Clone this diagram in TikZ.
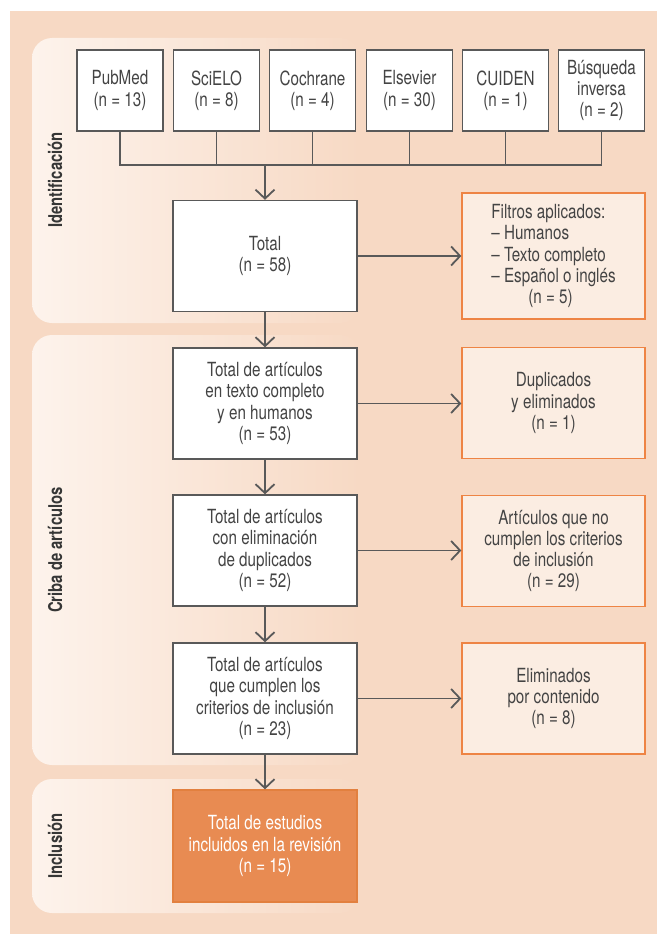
\documentclass[tikz,border=0pt]{standalone}
\usepackage{fontspec}
\setmainfont{TeX Gyre Heros}[FakeStretch=0.78]
\usetikzlibrary{arrows.meta}
\definecolor{bgc}{HTML}{F7D9C4}
\definecolor{panelL}{HTML}{FDF3EC}
\definecolor{rfill}{HTML}{FBEDE2}
\definecolor{rborder}{HTML}{EE8444}
\definecolor{ofill}{HTML}{E88B52}
\definecolor{oborder}{HTML}{E2803F}
\definecolor{boxgray}{HTML}{595959}
\definecolor{txtgray}{HTML}{444444}
\definecolor{lblgray}{HTML}{363636}
\tikzset{
  basebox/.style={draw=boxgray, line width=1.3pt, fill=white, align=center, text=txtgray,
    inner sep=0pt, font=\fontsize{19.5}{21.3}\selectfont},
  srcbox/.style={basebox, minimum width=86pt, minimum height=81pt},
  mainbox/.style={basebox, minimum width=184pt, minimum height=111pt},
  sidebox/.style={basebox, draw=rborder, fill=rfill, minimum width=183pt, minimum height=111pt},
  finalbox/.style={basebox, draw=oborder, fill=ofill, text=white, minimum width=184pt, minimum height=112pt},
  lanelabel/.style={text=lblgray, font=\fontsize{19}{21}\selectfont\bfseries, rotate=90},
  panel/.style={left color=panelL, right color=bgc, rounded corners=20pt},
  conn/.style={draw=boxgray, line width=1.8pt},
  arr/.style={conn, -{Straight Barb[length=9pt,width=19pt,line width=1.8pt]}}
}
\begin{document}
\begin{tikzpicture}[x=1pt,y=-1pt]
\useasboundingbox (0,0) rectangle (657,934);
\fill[bgc] (10,11) rectangle (657,934);
% lanes
\shade[panel] (32,38) rectangle (360,323);
\shade[panel] (32,335) rectangle (360,765);
\shade[panel] (32,779) rectangle (360,913);
\node[lanelabel] (lid) at (55,180) {Identificación};
\node[lanelabel] (lcr) at (55,550) {Criba de artículos};
\node[lanelabel] (lin) at (55,846) {Inclusión};
% sources
\node[srcbox] (s1) at (120,90.5) {PubMed\\(n = 13)};
\node[srcbox] (s2) at (216.5,90.5) {SciELO\\(n = 8)};
\node[srcbox] (s3) at (312.5,90.5) {Cochrane\\(n = 4)};
\node[srcbox] (s4) at (409.5,90.5) {Elsevier\\(n = 30)};
\node[srcbox] (s5) at (505.5,90.5) {CUIDEN\\(n = 1)};
\node[srcbox] (s6) at (601.5,90.5) {Búsqueda\\inversa\\(n = 2)};
\coordinate (bus) at (265,165);
% main column
\node[mainbox] (tot) at (265,256) {Total\\(n = 58)};
\node[mainbox] (c1) at (265,403.5) {Total de artículos\\en texto completo\\y en humanos\\(n = 53)};
\node[mainbox] (c2) at (265,550.5) {Total de artículos\\con eliminación\\de duplicados\\(n = 52)};
\node[mainbox] (c3) at (265,698.5) {Total de artículos\\que cumplen los\\criterios de inclusión\\(n = 23)};
\node[finalbox] (fin) at (265,846) {Total de estudios\\incluidos en la revisión\\(n = 15)};
% side boxes
\node[sidebox, minimum height=126pt, align=left] (fil) at (553.5,256) {Filtros aplicados:\\– Humanos\\– Texto completo\\– Español o inglés\\\hspace*{37pt}(n = 5)};
\node[sidebox] (dup) at (553.5,403) {Duplicados\\y eliminados\\(n = 1)};
\node[sidebox] (art) at (553.5,551) {Artículos que no\\cumplen los criterios\\de inclusión\\(n = 29)};
\node[sidebox] (eli) at (553.5,698.5) {Eliminados\\por contenido\\(n = 8)};
% connectors
\foreach \s in {s1,s2,s3,s4,s5,s6} \draw[conn] (\s.south) |- (bus);
\draw[arr] (bus) -- (tot.north);
\draw[arr] (tot.south) -- (c1.north);
\draw[arr] (c1.south) -- (c2.north);
\draw[arr] (c2.south) -- (c3.north);
\draw[arr] (c3.south) -- (fin.north);
\draw[arr] (tot.east) -- (tot.east -| fil.west);
\draw[arr] (c1.east) -- (c1.east -| dup.west);
\draw[arr] (c2.east) -- (c2.east -| art.west);
\draw[arr] (c3.east) -- (c3.east -| eli.west);
\end{tikzpicture}
\end{document}
